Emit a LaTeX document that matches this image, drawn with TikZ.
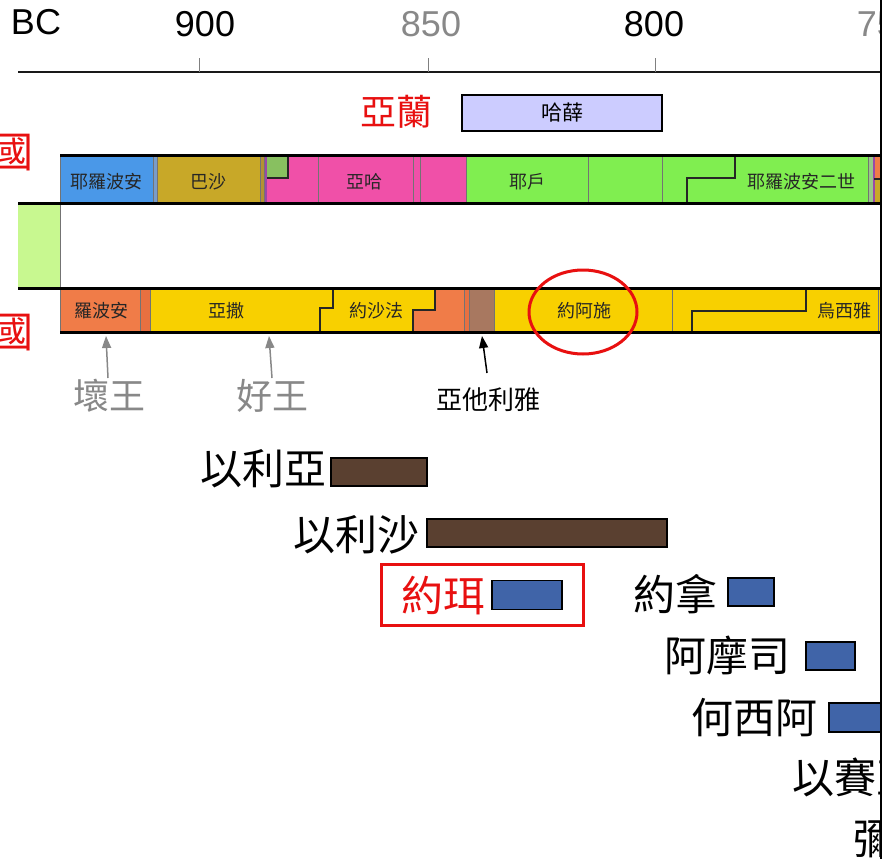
\documentclass[tikz,border=0pt]{standalone}
\usepackage{fontspec}
\setmainfont{Liberation Sans}
\newfontfamily\cjk{Noto Sans CJK TC}
\usetikzlibrary{arrows.meta}
\definecolor{jblue}{HTML}{4A98E8}
\definecolor{nadab}{HTML}{7A9CC8}
\definecolor{olive}{HTML}{C8A828}
\definecolor{elah}{HTML}{B49232}
\definecolor{zimri}{HTML}{9A48A8}
\definecolor{pink}{HTML}{F050A8}
\definecolor{tibni}{HTML}{88C060}
\definecolor{lgreen}{HTML}{80EE50}
\definecolor{zech}{HTML}{98C888}
\definecolor{orng}{HTML}{F07C48}
\definecolor{orng2}{HTML}{E87040}
\definecolor{ylw}{HTML}{F8D000}
\definecolor{athal}{HTML}{A87860}
\definecolor{pale}{HTML}{C8F890}
\definecolor{lav}{HTML}{CCCCFF}
\definecolor{pbrown}{HTML}{5A4030}
\definecolor{pblue}{HTML}{4064A8}
\definecolor{gtext}{HTML}{888888}
\definecolor{rd}{HTML}{E81010}
\begin{document}
\begin{tikzpicture}[x=1pt,y=-1pt,
  num/.style={font=\fontsize{36}{40}\selectfont, inner sep=0},
  lbl/.style={font=\cjk\fontsize{18}{20}\selectfont, inner sep=0, text=black!85},
  big/.style={font=\cjk\fontsize{42}{46}\selectfont, inner sep=0},
  mid/.style={font=\cjk\fontsize{36}{40}\selectfont, inner sep=0},
  sep/.style={draw=black!55, line width=0.8},
  stepline/.style={draw=black!85, line width=1.6},
  barline/.style={line width=3},
  ptr/.style={line width=1.5, -{Triangle[length=12, width=9]}},
  pbox/.style={draw=black, line width=1.5, inner sep=0},
]
\useasboundingbox (0,0) rectangle (882,859);
\clip (0,0) rectangle (882,859);
\fill[white] (0,0) rectangle (882,859);

% ---- time axis ----
\node[num] (bc) at (36,22) {BC};
\node[num] (y900) at (205,24) {900};
\node[num, text=gtext] (y850) at (431,24) {850};
\node[num] (y800) at (654,24) {800};
\node[num, text=gtext] (y750) at (887,24) {750};
\draw[line width=2.5, black!90] (18,72) -- (882,72);
\foreach \t in {199,428,655} \draw[black!50, line width=0.8] (\t,58) -- (\t,72);

% ---- Aram ----
\node[mid, text=rd] (aram) at (396,112) {亞蘭};
\node[draw, line width=1.5, fill=lav, minimum width=200, minimum height=36, inner sep=0,
      font=\cjk\fontsize{21}{24}\selectfont] (hazael) at (562,113) {哈薛};

% ---- kingdom labels (cut at left edge) ----
\node[big, text=rd, anchor=east] (kIsrael) at (34,153) {國};
\node[big, text=rd, anchor=east] (kJudah) at (34,333) {國};

% ---- Israel bar ----
\fill[jblue] (60,155) rectangle (153,203);
\fill[nadab] (153,155) rectangle (157,203);
\fill[olive] (157,155) rectangle (260,203);
\fill[elah] (260,155) rectangle (264,203);
\fill[zimri] (264,155) rectangle (267,203);
\fill[pink] (267,155) rectangle (466,203);
\fill[tibni] (267,155) rectangle (288,178);
\fill[lgreen] (466,155) rectangle (868,203);
\fill[zech] (868,155) rectangle (874,203);
\fill[orng] (874,155) rectangle (882,179);
\fill[olive] (874,179) rectangle (882,203);
\foreach \t in {60,153,157,260,264,318,413,420,466,588,662,868}
  \draw[sep] (\t,155) -- (\t,203);
\draw[zimri, line width=1.5] (874,155) -- (874,203);
\draw[stepline] (267,178) -- (288,178) -- (288,155);
\draw[stepline] (687,203) -- (687,178) -- (735,178) -- (735,155);
\draw[stepline] (874,179) -- (882,179);
\node[lbl] (jeroboam) at (106,182) {耶羅波安};
\node[lbl] (baasha) at (208,182) {巴沙};
\node[lbl] (ahab) at (364,182) {亞哈};
\node[lbl] (jehu) at (527,182) {耶戶};
\node[lbl] (jeroboam2) at (801,182) {耶羅波安二世};

% ---- middle ----
\fill[pale] (18,203) rectangle (60,288);
\draw[sep] (60,203) -- (60,288);

% ---- Judah bar ----
\fill[orng] (60,288) rectangle (150,332);
\fill[orng2] (140,288) rectangle (150,332);
\fill[ylw] (150,288) -- (435,288) -- (435,310) -- (413,310) -- (413,332) -- (150,332) -- cycle;
\fill[orng] (435,288) -- (464,288) -- (464,332) -- (413,332) -- (413,310) -- (435,310) -- cycle;
\fill[orng2] (464,288) rectangle (469,332);
\fill[athal] (469,288) rectangle (494,332);
\fill[ylw] (494,288) rectangle (882,332);
\foreach \t in {60,140,150,464,469,494,672,878}
  \draw[sep] (\t,288) -- (\t,332);
\draw[stepline] (320,332) -- (320,308) -- (333,308) -- (333,288);
\draw[stepline] (413,332) -- (413,310) -- (435,310) -- (435,288);
\draw[stepline] (692,332) -- (692,311) -- (806,311) -- (806,288);
\node[lbl] (rehoboam) at (101,311) {羅波安};
\node[lbl] (asa) at (226,311) {亞撒};
\node[lbl] (jehoshaphat) at (376,311) {約沙法};
\node[lbl] (joash) at (584,311) {約阿施};
\node[lbl] (uzziah) at (844,311) {烏西雅};

% ---- bar borders ----
\draw[barline] (60,155) -- (882,155);
\draw[barline] (18,203) -- (882,203);
\draw[barline] (18,288) -- (882,288);
\draw[barline] (60,332) -- (882,332);

% ---- highlight ellipse ----
\draw[rd, line width=3] (583,312) ellipse [x radius=54, y radius=42];

% ---- pointers ----
\coordinate (pBad) at (106,336);
\coordinate (pGood) at (269,336);
\coordinate (pAth) at (482,336);
\node[mid, text=gtext] (bad) at (109,396) {壞王};
\node[mid, text=gtext] (good) at (272,396) {好王};
\node[font=\cjk\fontsize{26}{30}\selectfont, inner sep=0] (athaliah) at (488,400) {亞他利雅};
\draw[ptr, gtext] (108,378) -- (pBad);
\draw[ptr, gtext] (272,378) -- (pGood);
\draw[ptr, black] (487,373) -- (pAth);

% ---- prophets ----
\node[big, anchor=east] (elijah) at (327,469) {以利亞};
\node[pbox, fill=pbrown, minimum width=96, minimum height=28] (elijahB) at (379,472) {};
\node[big, anchor=east] (elisha) at (420,535) {以利沙};
\node[pbox, fill=pbrown, minimum width=240, minimum height=28] (elishaB) at (547,533) {};

\node[draw=rd, line width=3, minimum width=202, minimum height=61, inner sep=0] (joelframe) at (482,595) {};
\node[big, text=rd, anchor=east] (joel) at (486,596) {約珥};
\node[pbox, fill=pblue, minimum width=70, minimum height=29] (joelB) at (527,595) {};

\node[big, anchor=east] (jonah) at (718,594) {約拿};
\node[pbox, fill=pblue, minimum width=46, minimum height=28] (jonahB) at (751,592) {};
\node[big, anchor=east] (amos) at (791,655) {阿摩司};
\node[pbox, fill=pblue, minimum width=49, minimum height=28] (amosB) at (830.5,656) {};
\node[big, anchor=east] (hosea) at (818,718) {何西阿};
\node[pbox, fill=pblue, minimum width=60, minimum height=29] (hoseaB) at (859,717.5) {};
\node[big, anchor=west] (isaiah) at (792,777) {以賽亞};
\node[big, anchor=west] (micah) at (853,839) {彌迦};

% ---- right edge ----
\fill[black] (879.5,0) rectangle (882,859);
\end{tikzpicture}
\end{document}
